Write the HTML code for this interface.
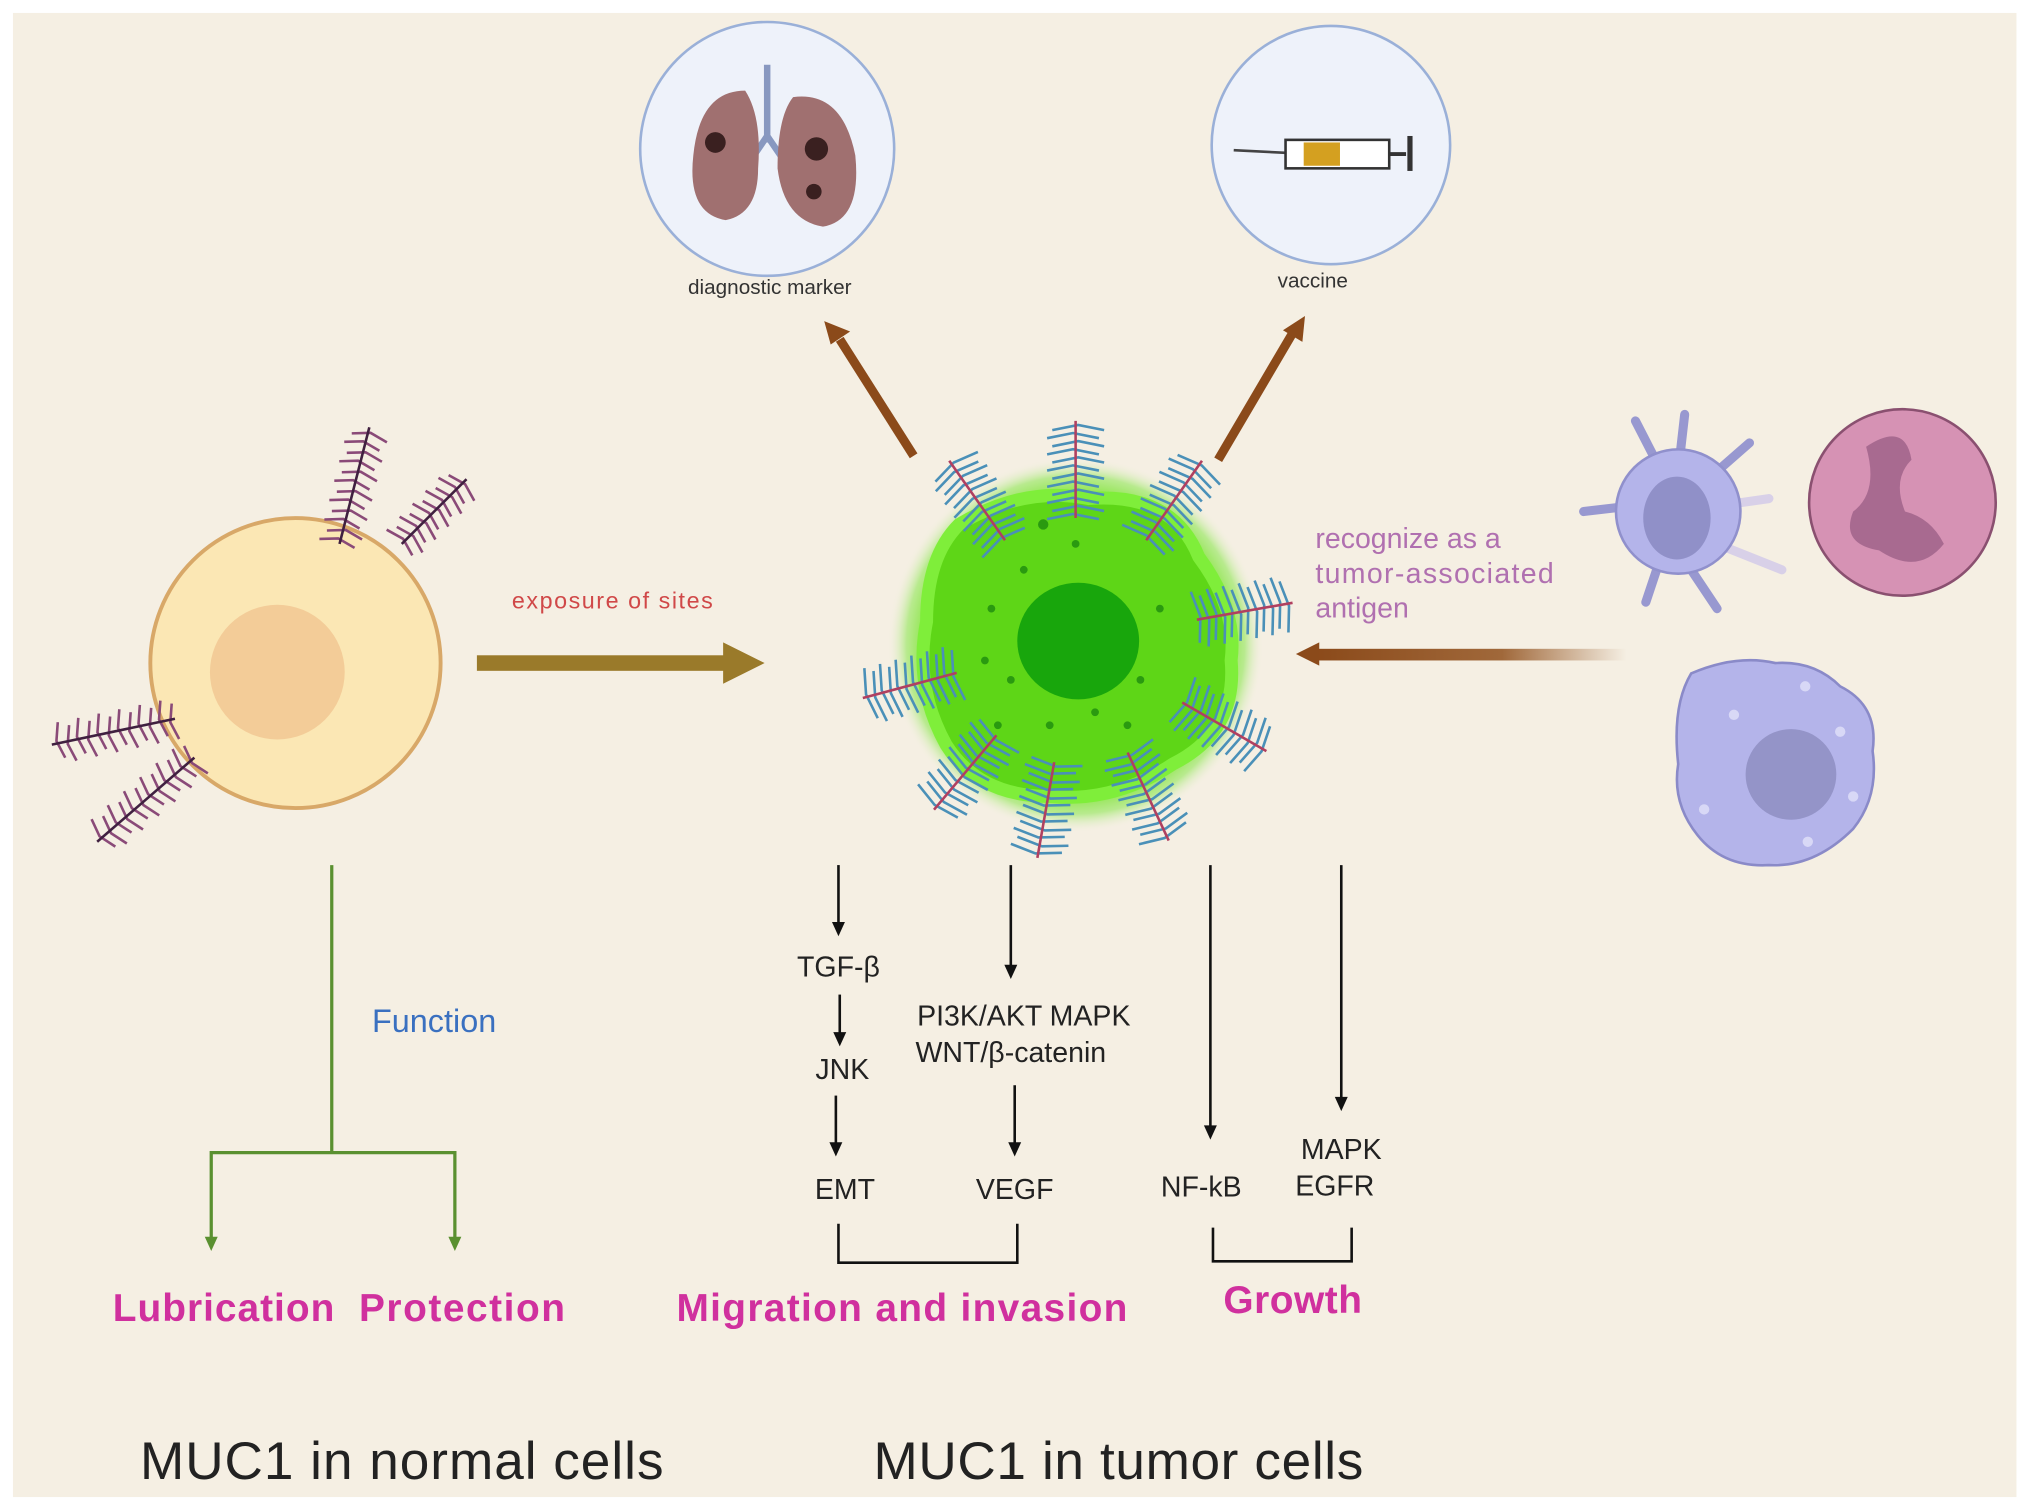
<!DOCTYPE html>
<html><head><meta charset="utf-8"><style>
html,body{margin:0;padding:0;background:#fff}
svg{display:block}
text{font-family:"Liberation Sans",sans-serif}
</style></head><body>
<svg id="s" width="2032" height="1510" viewBox="0 0 1568 1166" preserveAspectRatio="none" xmlns="http://www.w3.org/2000/svg">
<defs>
<radialGradient id="glow" cx="50%" cy="50%" r="50%"><stop offset="0.75" stop-color="#6ee21a"/><stop offset="0.9" stop-color="#9ee86a" stop-opacity="0.7"/><stop offset="1" stop-color="#f5efe3" stop-opacity="0"/></radialGradient>
<linearGradient id="lg" x1="0" x2="1"><stop offset="0" stop-color="#8b4a1a"/><stop offset="0.6" stop-color="#a0683a"/><stop offset="1" stop-color="#f5efe3"/></linearGradient>
</defs>
<rect x="0" y="0" width="1568" height="1166" fill="#fff"/>
<rect x="10" y="10" width="1546" height="1146" fill="#f5efe3"/>
<g id="brushes"></g>

<circle cx="228" cy="512" r="112" fill="#fbe7b4" stroke="#d8a868" stroke-width="3"/>
<circle cx="214" cy="519" r="52" fill="#f3cc98"/>
<g id="nb"></g>

<rect x="368" y="506" width="195" height="12" fill="#9a7a2a"/>
<polygon points="558,496 590,512 558,528" fill="#9a7a2a"/>
<text x="395" y="470" font-size="18" fill="#d04848" textLength="155">exposure of sites</text>

<circle cx="830" cy="498" r="145" fill="url(#glow)"/>
<path d="M740,405 Q790,375 840,385 Q905,380 925,430 Q955,470 950,510 Q955,565 905,590 Q860,620 810,615 Q755,615 730,575 Q705,530 715,480 Q715,430 740,405Z" fill="#5ed617" stroke="#7fee3a" stroke-width="10"/>
<ellipse cx="832" cy="495" rx="47" ry="45" fill="#18a60c"/>
<g fill="#2a9a10">
<circle cx="790" cy="440" r="3"/><circle cx="830" cy="420" r="3"/><circle cx="765" cy="470" r="3"/><circle cx="780" cy="525" r="3"/><circle cx="895" cy="470" r="3"/><circle cx="880" cy="525" r="3"/><circle cx="845" cy="550" r="3"/><circle cx="770" cy="560" r="3"/><circle cx="810" cy="560" r="3"/><circle cx="870" cy="560" r="3"/><circle cx="760" cy="510" r="3"/><circle cx="805" cy="405" r="4"/>
</g>
<g id="tb"></g>

<line x1="705" y1="352" x2="648" y2="262" stroke="#8b4a1a" stroke-width="7"/>
<polygon points="636,248 656,256 641,266" fill="#8b4a1a"/>
<line x1="940" y1="355" x2="997" y2="258" stroke="#8b4a1a" stroke-width="7"/>
<polygon points="1007,244 1005,264 990,255" fill="#8b4a1a"/>

<circle cx="592" cy="115" r="98" fill="#eef2fa" stroke="#9ab0d8" stroke-width="2"/>
<path d="M592,50 V110 M592,105 L575,130 M592,105 L609,130" stroke="#8898c0" stroke-width="5" fill="none"/>
<path d="M575,70 Q540,70 535,120 Q530,165 560,170 Q585,165 585,130 Q588,90 575,70Z" fill="#a07070"/>
<path d="M612,75 Q650,70 660,120 Q665,170 635,175 Q605,170 600,130 Q600,90 612,75Z" fill="#a07070"/>
<circle cx="552" cy="110" r="8" fill="#3a2020"/><circle cx="630" cy="115" r="9" fill="#3a2020"/><circle cx="628" cy="148" r="6" fill="#3a2020"/>
<text x="594" y="227" font-size="16" text-anchor="middle" fill="#333">diagnostic marker</text>
<circle cx="1027" cy="112" r="92" fill="#eef2fa" stroke="#9ab0d8" stroke-width="2"/>
<line x1="952" y1="116" x2="992" y2="118" stroke="#444" stroke-width="2"/>
<rect x="992" y="108" width="80" height="22" fill="#fff" stroke="#333" stroke-width="2"/>
<rect x="1006" y="110" width="28" height="18" fill="#d4a020"/>
<line x1="1072" y1="119" x2="1085" y2="119" stroke="#333" stroke-width="3"/>
<line x1="1088" y1="105" x2="1088" y2="132" stroke="#333" stroke-width="4"/>
<text x="1013" y="222" font-size="16" text-anchor="middle" fill="#333">vaccine</text>

<g font-size="22" fill="#b070b0"><text x="1015" y="423">recognize as a</text><text x="1015" y="450" textLength="184">tumor-associated</text><text x="1015" y="477">antigen</text></g>
<rect x="1015" y="501" width="240" height="9" fill="url(#lg)"/>
<polygon points="1000,505 1018,496 1018,514" fill="#8b4a1a"/>

<g stroke="#9898d0" stroke-width="7" stroke-linecap="round" fill="none">
<path d="M1265,390 L1222,395"/><path d="M1280,360 L1262,325"/><path d="M1296,355 L1300,320"/><path d="M1318,370 L1350,342"/><path d="M1280,435 L1270,465"/><path d="M1305,440 L1325,470"/>
<path d="M1325,420 L1375,440" stroke="#d8d0e8"/><path d="M1330,390 L1365,385" stroke="#d8d0e8"/>
</g>
<circle cx="1295" cy="395" r="48" fill="#b4b4ea" stroke="#9090cc" stroke-width="2"/>
<ellipse cx="1294" cy="400" rx="26" ry="32" fill="#9090c8"/>
<circle cx="1468" cy="388" r="72" fill="#d692b4" stroke="#8a5070" stroke-width="2"/>
<path d="M1440,345 Q1470,325 1475,355 Q1460,370 1470,395 Q1490,400 1500,420 Q1480,445 1450,425 Q1420,420 1430,395 Q1450,380 1440,345Z" fill="#a86a90"/>
<path d="M1305,520 Q1340,505 1370,512 Q1400,510 1420,530 Q1450,545 1445,580 Q1450,615 1430,640 Q1400,670 1365,668 Q1330,670 1310,645 Q1290,620 1295,590 Q1290,545 1305,520Z" fill="#b4b4ea" stroke="#8a8ac8" stroke-width="2"/>
<circle cx="1382" cy="598" r="35" fill="#9494c8"/>
<g fill="#d8d8f6"><circle cx="1338" cy="552" r="4"/><circle cx="1393" cy="530" r="4"/><circle cx="1420" cy="565" r="4"/><circle cx="1315" cy="625" r="4"/><circle cx="1395" cy="650" r="4"/><circle cx="1430" cy="615" r="4"/></g>

<g stroke="#111" stroke-width="2" fill="none">
<line x1="647" y1="668" x2="647" y2="715"/><line x1="648" y1="768" x2="648" y2="800"/><line x1="645" y1="846" x2="645" y2="885"/>
<line x1="780" y1="668" x2="780" y2="748"/><line x1="783" y1="838" x2="783" y2="885"/>
<line x1="934" y1="668" x2="934" y2="872"/><line x1="1035" y1="668" x2="1035" y2="850"/>
<path d="M647,945 V975 H785 V945"/><path d="M936,948 V974 H1043 V948"/>
</g>
<g fill="#111">
<polygon points="642,712 652,712 647,723"/><polygon points="643,797 653,797 648,808"/><polygon points="640,882 650,882 645,893"/>
<polygon points="775,745 785,745 780,756"/><polygon points="778,882 788,882 783,893"/>
<polygon points="929,869 939,869 934,880"/><polygon points="1030,847 1040,847 1035,858"/>
</g>
<g font-size="22" fill="#222" text-anchor="middle">
<text x="647" y="754">TGF-β</text><text x="650" y="833">JNK</text><text x="652" y="926">EMT</text>
<text x="790" y="792">PI3K/AKT MAPK</text><text x="780" y="820">WNT/β-catenin</text><text x="783" y="926">VEGF</text>
<text x="927" y="924">NF-kB</text><text x="1035" y="895">MAPK</text><text x="1030" y="923">EGFR</text>
</g>
<g font-size="30" font-weight="bold" fill="#d0309e">
<text x="522" y="1020" textLength="348">Migration and invasion</text><text x="944" y="1014" textLength="107">Growth</text>
<text x="87" y="1020" textLength="171">Lubrication</text><text x="277" y="1020" textLength="159">Protection</text>
</g>

<g stroke="#5a9030" stroke-width="2.5" fill="none">
<line x1="256" y1="668" x2="256" y2="890"/><path d="M163,958 V890 H351 V958"/>
</g>
<polygon points="158,955 168,955 163,966" fill="#5a9030"/><polygon points="346,955 356,955 351,966" fill="#5a9030"/>
<text x="335" y="797" font-size="25" text-anchor="middle" fill="#3a70c0">Function</text>

<g font-size="41" fill="#222"><text x="108" y="1142" textLength="404">MUC1 in normal cells</text><text x="674" y="1142" textLength="378">MUC1 in tumor cells</text></g>
</svg>
<script>
(function(){
var NS="http://www.w3.org/2000/svg";
function brush(g,x1,y1,x2,y2,stem,tick,len,n){
 var dx=x2-x1,dy=y2-y1,L=Math.hypot(dx,dy),ux=dx/L,uy=dy/L,px=-uy,py=ux;
 var d="";
 for(var i=0;i<n;i++){var t=(i+0.5)/n,cx=x1+dx*t,cy=y1+dy*t,s=(i%2?1:-1)*2;
  cx+=px*s;cy+=py*s;
  d+="M"+(cx+px*len-ux*4)+","+(cy+py*len-uy*4)+"L"+cx+","+cy+"L"+(cx-px*len-ux*4)+","+(cy-py*len-uy*4);}
 var p=document.createElementNS(NS,"path");p.setAttribute("d",d);p.setAttribute("stroke",tick);p.setAttribute("stroke-width","2");p.setAttribute("fill","none");g.appendChild(p);
 var q=document.createElementNS(NS,"path");q.setAttribute("d","M"+x1+","+y1+"L"+x2+","+y2);q.setAttribute("stroke",stem);q.setAttribute("stroke-width","2");g.appendChild(q);
}
var tb=document.getElementById("tb"),cx=830,cy=495;
var ang=[-125,-90,-55,-10,30,65,100,130,165];
ang.forEach(function(a){var r=a*Math.PI/180,c=Math.cos(r),s=Math.sin(r);
 brush(tb,cx+c*95,cy+s*95,cx+c*170,cy+s*170,"#b04060","#4a90b8",20,12);});
var nb=document.getElementById("nb");
brush(nb,262,420,285,330,"#402040","#8a4a78",14,12);
brush(nb,310,420,360,370,"#402040","#8a4a78",14,10);
brush(nb,135,555,40,575,"#402040","#8a4a78",14,12);
brush(nb,150,585,75,650,"#402040","#8a4a78",14,12);
})();
</script>
</body></html>
